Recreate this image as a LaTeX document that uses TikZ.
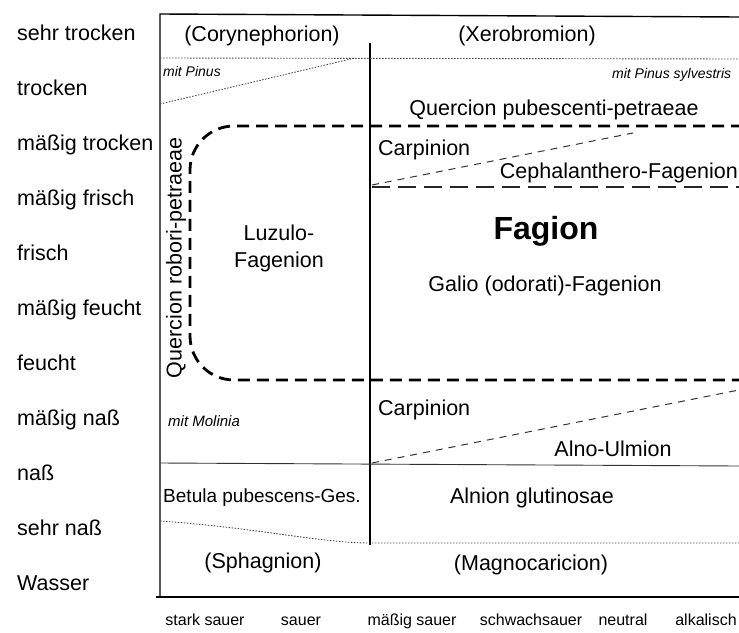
\documentclass[tikz,border=0pt]{standalone}
\usepackage{fontspec}
\setmainfont{Liberation Sans}
\begin{document}
\begin{tikzpicture}[x=1pt,y=-1pt,
  lbl/.style={font=\fontsize{21.5}{24}\selectfont, inner sep=0pt, text height=15pt, text depth=4pt},
  smalllbl/.style={font=\fontsize{14}{16}\selectfont\itshape, inner sep=0pt, text height=10pt, text depth=3pt},
  axislbl/.style={font=\fontsize{16}{18}\selectfont, inner sep=0pt, text height=11pt, text depth=3pt},
  bigbold/.style={font=\fontsize{32}{36}\selectfont\bfseries, inner sep=0pt, text height=23pt, text depth=7pt},
  frameline/.style={line width=1.4pt, black},
  thinline/.style={line width=0.9pt, black!80},
  dotline/.style={line width=0.9pt, black!70, dash pattern=on 1.5pt off 1.5pt},
  bigdash/.style={line width=2.8pt, black, dash pattern=on 12pt off 7pt},
  longdash/.style={line width=1.4pt, black!85, dash pattern=on 18pt off 8pt},
  thindash/.style={line width=1pt, black!80, dash pattern=on 7pt off 6pt}]
\useasboundingbox (0,0) rectangle (739,632);
% frame
\coordinate (TL) at (160,14);
\coordinate (TR) at (739,17);
\coordinate (BL) at (160,597);
\coordinate (BLx) at (156,597);
\coordinate (BR) at (739,597);
\coordinate (MT) at (370,43);
\coordinate (MB) at (370,545);
\draw[frameline] (TR) -- (TL) -- (BL);
\draw[frameline] (BLx) -- (BR);
\draw[frameline] (MT) -- (MB);
% dotted lines top
\coordinate (D1a) at (160,58);
\coordinate (D1b) at (739,59);
\coordinate (D2a) at (160,104);
\coordinate (D2b) at (355,58);
\draw[dotline] (D1a) -- (D1b);
\draw[dotline] (D2a) -- (D2b);
% Fagion thick dashed rounded box
\draw[bigdash, rounded corners=44pt] (800,126) -- (190,126) -- (190,380) -- (800,380);
% Cephalanthero boundaries
\coordinate (C1a) at (372,187);
\coordinate (C1b) at (739,187);
\coordinate (C2a) at (372,185);
\coordinate (C2b) at (633,133);
\draw[longdash] (C1a) -- (C1b);
\draw[thindash] (C2a) -- (C2b);
% lower boundaries
\coordinate (A1a) at (372,463);
\coordinate (A1b) at (739,390);
\coordinate (S1a) at (160,463);
\coordinate (S1b) at (739,466);
\draw[thindash] (A1a) -- (A1b);
\draw[thinline] (S1a) -- (S1b);
\coordinate (W1a) at (160,521);
\coordinate (W1m) at (370,543);
\coordinate (W1b) at (739,543);
\draw[dotline] (W1a) .. controls (260,528) and (320,543) .. (W1m) -- (W1b);
% left axis labels
\node[lbl, anchor=west] (l1) at (17,35) {sehr trocken};
\node[lbl, anchor=west] (l2) at (17,90) {trocken};
\node[lbl, anchor=west] (l3) at (17,145) {mäßig trocken};
\node[lbl, anchor=west] (l4) at (17,200) {mäßig frisch};
\node[lbl, anchor=west] (l5) at (17,255) {frisch};
\node[lbl, anchor=west] (l6) at (17,310) {mäßig feucht};
\node[lbl, anchor=west] (l7) at (17,365) {feucht};
\node[lbl, anchor=west] (l8) at (17,420) {mäßig naß};
\node[lbl, anchor=west] (l9) at (17,475) {naß};
\node[lbl, anchor=west] (l10) at (17,530) {sehr naß};
\node[lbl, anchor=west] (l11) at (17,585) {Wasser};
% bottom axis labels
\node[axislbl] (b1) at (205,621) {stark sauer};
\node[axislbl] (b2) at (301,621) {sauer};
\node[axislbl] (b3) at (412,621) {mäßig sauer};
\node[axislbl] (b4) at (531,621) {schwachsauer};
\node[axislbl] (b5) at (623,621) {neutral};
\node[axislbl] (b6) at (706,621) {alkalisch};
% content labels
\node[lbl] (cory) at (262,36) {(Corynephorion)};
\node[lbl] (xero) at (527,36) {(Xerobromion)};
\node[smalllbl, anchor=west] (mp) at (163,73) {mit Pinus};
\node[smalllbl, anchor=west] (mps) at (612,75) {mit Pinus sylvestris};
\node[lbl] (qpp) at (554,110) {Quercion pubescenti-petraeae};
\node[lbl, anchor=west] (carp1) at (378,150) {Carpinion};
\node[lbl, anchor=east] (ceph) at (738,173) {Cephalanthero-Fagenion};
\node[bigbold] (fag) at (546,231) {Fagion};
\node[lbl] (galio) at (545,286) {Galio (odorati)-Fagenion};
\node[lbl, align=center, text height=, text depth=] (luz) at (279,248) {Luzulo-\\[3pt]Fagenion};
\node[lbl, rotate=90] (qrp) at (176,258) {Quercion robori-petraeae};
\node[lbl, anchor=west] (carp2) at (378,410) {Carpinion};
\node[smalllbl, anchor=west, font=\fontsize{15}{17}\selectfont\itshape] (mm) at (168,423) {mit Molinia};
\node[lbl] (alno) at (613,451) {Alno-Ulmion};
\node[lbl, font=\fontsize{19}{22}\selectfont] (betula) at (262,497) {Betula pubescens-Ges.};
\node[lbl] (alnion) at (532,498) {Alnion glutinosae};
\node[lbl] (spha) at (263,563) {(Sphagnion)};
\node[lbl] (magno) at (531,565) {(Magnocaricion)};
\end{tikzpicture}
\end{document}
